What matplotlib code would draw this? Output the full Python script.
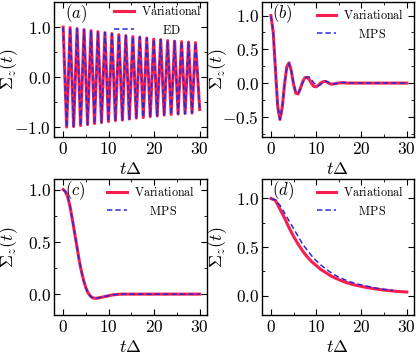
import matplotlib
matplotlib.use("Agg")
import matplotlib.pyplot as plt
from matplotlib.ticker import MultipleLocator, FuncFormatter

# ---------------------------------------------------------------------------
# Data
# ---------------------------------------------------------------------------
# (a) fast oscillation: peaks / troughs of Sigma_z(t)
a_peak_t = [0.00, 1.53, 3.06, 4.59, 6.12, 7.65, 9.18, 10.71, 12.24, 13.77,
            15.30, 16.83, 18.36, 19.89, 21.42, 22.95, 24.48, 26.01, 27.54, 29.07]
a_peak_v = [1.00, 0.99, 0.97, 0.95, 0.93, 0.91, 0.89, 0.87, 0.85, 0.83,
            0.81, 0.80, 0.78, 0.76, 0.75, 0.73, 0.72, 0.71, 0.70, 0.69]
a_trough_t = [0.77, 2.30, 3.83, 5.36, 6.89, 8.42, 9.95, 11.48, 13.01, 14.54,
              16.07, 17.60, 19.13, 20.66, 22.19, 23.72, 25.25, 26.78, 28.31]
a_trough_v = [-1.00, -0.99, -0.97, -0.95, -0.93, -0.91, -0.89, -0.87, -0.86, -0.84,
              -0.82, -0.81, -0.79, -0.78, -0.76, -0.75, -0.74, -0.73, -0.72]
a_end_t, a_end_v = 30.0, -0.65

# (b) damped oscillation
b_t = [0, 0.5, 1.0, 1.5, 2.0, 2.5, 3.0, 3.5, 4.0, 4.5, 5.0, 5.5, 6.0, 6.5,
       7.0, 7.5, 8.0, 8.5, 9.0, 9.5, 10.0, 10.5, 11.0, 11.5, 12.0, 12.5,
       13.0, 13.5, 14.0, 14.5, 15.0, 16.0, 17.0, 20.0, 25.0, 30.0]
b_var = [1.00, 0.76, 0.20, -0.35, -0.54, -0.36, -0.02, 0.24, 0.30, 0.18,
         -0.02, -0.15, -0.16, -0.08, 0.02, 0.08, 0.085, 0.05, -0.01, -0.05,
         -0.055, -0.03, 0.00, 0.02, 0.025, 0.01, -0.01, -0.015, -0.012, -0.005,
         0.003, 0.005, 0.0, 0.0, 0.0, 0.0]
b_mps = [1.00, 0.76, 0.20, -0.35, -0.54, -0.37, -0.03, 0.23, 0.29, 0.19,
         0.00, -0.13, -0.15, -0.09, 0.00, 0.07, 0.09, 0.09, 0.05, 0.00,
         -0.03, -0.04, -0.02, 0.01, 0.03, 0.02, 0.00, -0.01, -0.01, -0.005,
         0.005, 0.01, 0.005, 0.0, 0.0, 0.0]

# (c) overdamped with small undershoot
c_t = [0, 0.5, 1.0, 1.5, 2.0, 2.5, 3.0, 3.5, 4.0, 4.5, 5.0, 5.5, 6.0, 6.5,
       7.0, 7.5, 8.0, 9.0, 10.0, 11.0, 12.0, 13.0, 15.0, 20.0, 25.0, 30.0]
c_var = [1.00, 0.98, 0.93, 0.84, 0.72, 0.59, 0.46, 0.33, 0.22, 0.13, 0.06,
         0.01, -0.02, -0.035, -0.04, -0.038, -0.034, -0.025, -0.015, -0.007,
         -0.002, 0.0, 0.0, 0.0, 0.0, 0.0]
c_mps = [1.00, 0.98, 0.93, 0.84, 0.72, 0.59, 0.46, 0.33, 0.22, 0.13, 0.06,
         0.01, -0.02, -0.035, -0.04, -0.038, -0.033, -0.024, -0.014, -0.006,
         -0.002, 0.0, 0.0, 0.0, 0.0, 0.0]

# (d) slow decay
d_t = list(range(0, 31))
d_var = [1.00, 0.98, 0.89, 0.80, 0.70, 0.61, 0.53, 0.46, 0.40, 0.35, 0.31,
         0.27, 0.24, 0.21, 0.185, 0.165, 0.145, 0.13, 0.115, 0.105, 0.095,
         0.085, 0.078, 0.07, 0.063, 0.057, 0.052, 0.047, 0.043, 0.04, 0.037]
d_mps_t = list(range(0, 28))
d_mps = [1.00, 0.985, 0.93, 0.85, 0.77, 0.69, 0.61, 0.53, 0.47, 0.41, 0.36,
         0.315, 0.28, 0.245, 0.215, 0.19, 0.17, 0.15, 0.135, 0.12, 0.11,
         0.10, 0.09, 0.08, 0.072, 0.065, 0.06, 0.055]

# interleave peaks and troughs of (a)
a_t, a_v = [], []
for i in range(len(a_peak_t)):
    a_t.append(a_peak_t[i]); a_v.append(a_peak_v[i])
    if i < len(a_trough_t):
        a_t.append(a_trough_t[i]); a_v.append(a_trough_v[i])
a_t.append(a_end_t); a_v.append(a_end_v)

# ---------------------------------------------------------------------------
RED = "#FA1E4E"
BLUE = "#2A2AD8"

plt.rcParams.update({
    "mathtext.fontset": "cm",
    "font.family": "serif",
    "font.serif": ["cmr10", "DejaVu Serif"],
    "axes.unicode_minus": False,
    "axes.linewidth": 1.0,
    "xtick.direction": "in",
    "ytick.direction": "in",
    "xtick.top": True,
    "ytick.right": True,
    "xtick.major.size": 4,
    "ytick.major.size": 4,
    "xtick.minor.size": 2,
    "ytick.minor.size": 2,
    "xtick.minor.visible": True,
    "ytick.minor.visible": True,
    "xtick.major.pad": 3,
    "ytick.major.pad": 2,
})

fig = plt.figure(figsize=(4.19, 3.56), dpi=100)
ax_a = fig.add_axes([0.129, 0.615, 0.364, 0.379])
ax_b = fig.add_axes([0.625, 0.615, 0.362, 0.379])
ax_c = fig.add_axes([0.129, 0.115, 0.364, 0.382])
ax_d = fig.add_axes([0.625, 0.115, 0.362, 0.382])

fmt = FuncFormatter(lambda v, p: f"${v:.1f}$")
xfmt = FuncFormatter(lambda v, p: f"${v:.0f}$")

LBL_VAR = r"$\mathrm{Variational}$"
LBL_ED = r"$\qquad\mathrm{ED}$"
LBL_MPS = r"$\quad\enspace\mathrm{MPS}$"


def style(ax, tag, ylim, ymajor, yminor, leg_anchor):
    ax.set_xlim(-2, 31.5)
    ax.set_ylim(*ylim)
    ax.xaxis.set_major_locator(MultipleLocator(10))
    ax.xaxis.set_minor_locator(MultipleLocator(5))
    ax.yaxis.set_major_locator(MultipleLocator(ymajor))
    ax.yaxis.set_minor_locator(MultipleLocator(yminor))
    ax.xaxis.set_major_formatter(xfmt)
    ax.yaxis.set_major_formatter(fmt)
    ax.tick_params(labelsize=12.5)
    ax.set_xlabel(r"$t\Delta$", fontsize=13, labelpad=3)
    ax.set_ylabel(r"$\Sigma_z(t)$", fontsize=13)
    ax.yaxis.set_label_coords(-0.22, 0.5)
    ax.text(0.07, 0.915, tag, transform=ax.transAxes, fontsize=12, va="center")
    ax.legend(loc="upper right", bbox_to_anchor=leg_anchor, frameon=False,
              fontsize=8.7, handlelength=1.6, handletextpad=0.6,
              borderaxespad=0.0, borderpad=0.0, labelspacing=0.45)


ax_a.plot(a_t, a_v, color=RED, lw=2.2, label=LBL_VAR)
ax_a.plot(a_t, a_v, color=BLUE, lw=1.1, dashes=(3.5, 2), label=LBL_ED)
style(ax_a, r"$(a)$", (-1.2, 1.5), 1.0, 0.5, (0.97, 0.985))

ax_b.plot(b_t, b_var, color=RED, lw=2.2, label=LBL_VAR)
ax_b.plot(b_t, b_mps, color=BLUE, lw=1.1, dashes=(3.5, 2), label=LBL_MPS)
style(ax_b, r"$(b)$", (-0.8, 1.2), 0.5, 0.25, (0.94, 0.955))

ax_c.plot(c_t, c_var, color=RED, lw=2.2, label=LBL_VAR)
ax_c.plot(c_t, c_mps, color=BLUE, lw=1.1, dashes=(3.5, 2), label=LBL_MPS)
style(ax_c, r"$(c)$", (-0.2, 1.1), 0.5, 0.25, (0.925, 0.955))

ax_d.plot(d_t, d_var, color=RED, lw=2.2, label=LBL_VAR)
ax_d.plot(d_mps_t, d_mps, color=BLUE, lw=1.1, dashes=(3.5, 2), label=LBL_MPS)
style(ax_d, r"$(d)$", (-0.2, 1.2), 0.5, 0.25, (0.94, 0.955))

fig.savefig("out.png", dpi=100)
